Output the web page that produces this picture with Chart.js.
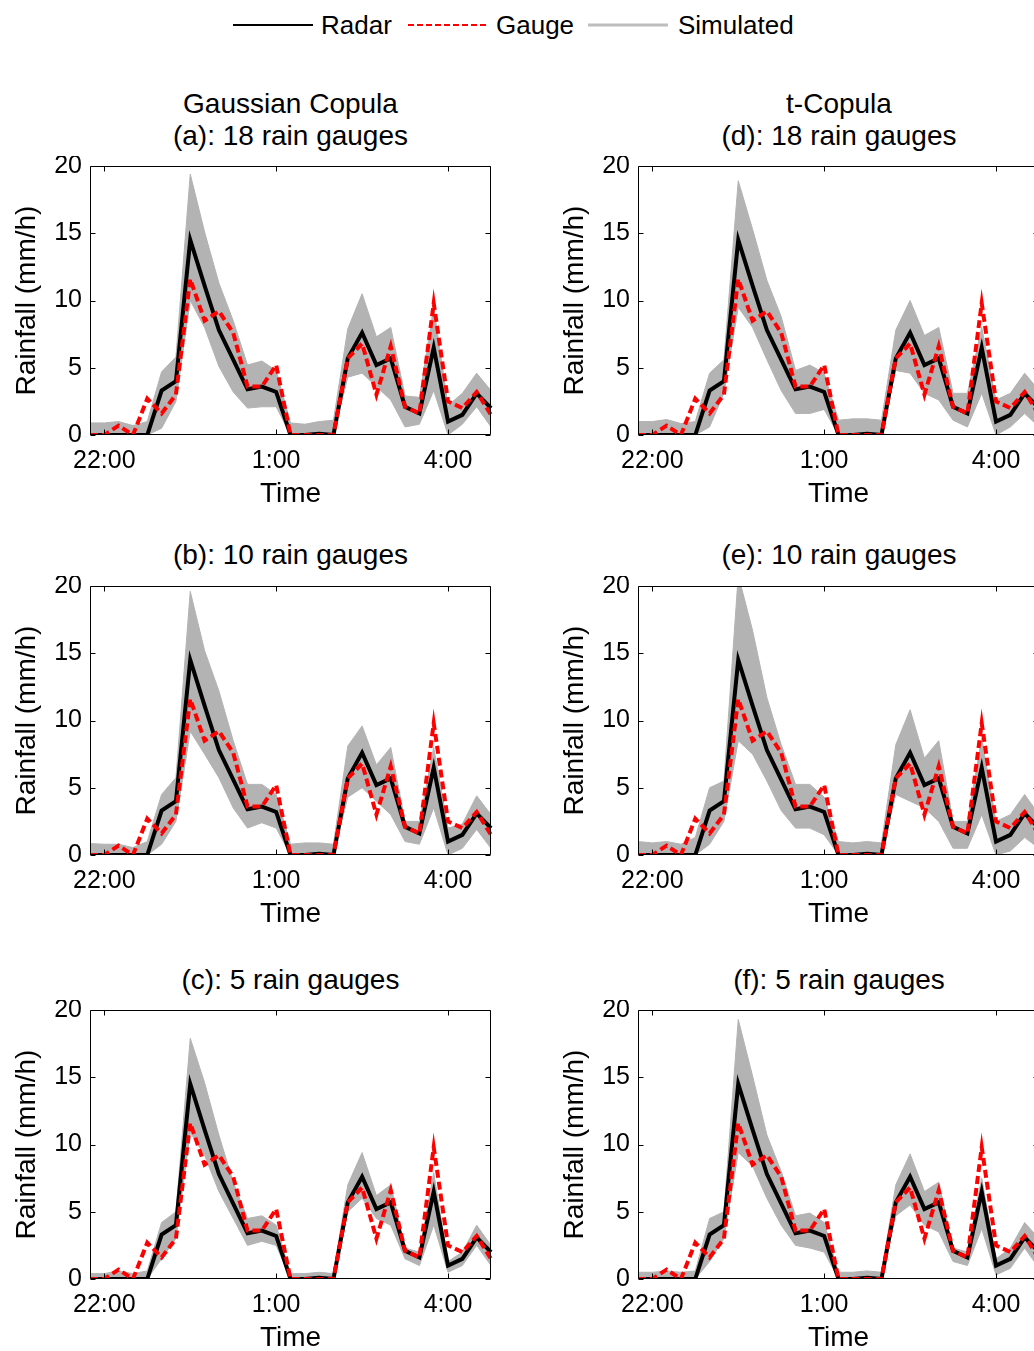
<!DOCTYPE html>
<html>
<head>
<meta charset="utf-8">
<script src="https://cdn.jsdelivr.net/npm/chart.js@4.4.1/dist/chart.umd.min.js"></script>
<style>
  html, body { margin: 0; padding: 0; background: #fff; }
  body { width: 1034px; height: 1351px; overflow: hidden; position: relative;
         font-family: "Liberation Sans", Arial, sans-serif; color: #000; }
  .ttl { position: absolute; width: 500px; text-align: center; font-size: 28px; line-height: 32px; white-space: nowrap; }
  .lg { position: absolute; font-size: 26px; line-height: 30px; top: 10px; white-space: nowrap; }
  canvas { position: absolute; }
</style>
</head>
<body>
<script>
// ---------------- DATA ----------------
const categories = ["21:45","22:00","22:15","22:30","22:45","23:00","23:15","23:30","23:45","0:00","0:15","0:30","0:45",
  "1:00","1:15","1:30","1:45","2:00","2:15","2:30","2:45","3:00","3:15","3:30","3:45","4:00","4:15","4:30","4:45"];
const xTickLabels = ["22:00", "1:00", "4:00"];
const yTickValues = [0, 5, 10, 15, 20];

const radar = [0,0,0,0,0,3.3,4.0,14.5,11.1,7.8,5.6,3.4,3.6,3.2,0,0,0.1,0,5.7,7.6,5.2,5.7,2.1,1.6,6.5,1.0,1.5,3.1,2.0];
const gauge = [0,0,0.7,0,2.7,1.6,3.0,11.6,8.5,9.2,7.6,3.6,3.6,5.2,0,0,0,0,5.7,6.8,3.0,6.6,2.1,1.6,9.8,2.5,2.0,3.2,1.5];

// Simulated envelope (upper / lower) for each panel
const simA_upper = [0.9,0.9,1.0,0.7,1.0,4.7,5.8,19.4,15.1,11.3,8.5,5.2,5.5,4.8,0.9,0.8,1.0,1.1,7.9,10.5,7.3,8.0,2.9,2.8,9.5,2.2,3.1,4.6,3.3];
const simA_lower = [0,0,0,0,0,0.5,2.5,10.0,8.0,5.1,3.2,2.0,2.1,2.1,0,0,0,0,4.3,4.6,3.6,2.6,0.6,0.8,3.3,0,0.8,2.1,0.6];
const simB_upper = [0.85,0.8,0.8,0.55,1.0,4.5,5.75,19.6,15.2,12.2,8.5,5.25,5.25,4.5,0.8,0.9,0.9,0.8,8.1,9.6,6.7,8.0,2.5,2.5,8.0,2.0,2.3,4.4,3.0];
const simB_lower = [0,0,0,0,0,0.8,2.5,9.2,7.5,5.75,3.5,2.0,2.4,2.0,0,0,0,0,4.3,5.0,4.0,3.0,1.0,0.8,3.5,0,0.5,1.9,0.5];
const simC_upper = [0.4,0.4,0.6,0.4,0.6,4.2,5.0,17.9,14.6,10.7,7.2,4.5,4.7,4.0,0.4,0.4,0.5,0.4,7.0,9.4,6.2,7.0,2.3,2.0,7.9,1.3,2.0,4.0,2.5];
const simC_lower = [0,0,0,0,0,1.5,3.0,10.9,9.2,6.5,4.5,2.5,2.8,2.5,0,0,0,0,5.0,6.0,4.5,4.0,1.5,1.0,4.0,0.5,1.0,2.5,1.0];
const simD_upper = [1.0,1.0,1.15,0.85,1.0,4.6,5.6,18.9,15.3,11.5,8.8,4.8,5.2,4.6,1.1,1.2,1.2,1.1,7.8,10.0,7.4,8.0,3.1,3.1,8.0,2.6,3.1,4.6,3.3];
const simD_lower = [0,0,0,0,0,0.6,3.1,9.5,8.0,5.6,3.3,1.6,1.6,1.9,0,0,0,0,4.8,4.6,3.1,2.6,1.1,0.6,3.1,0,0.6,1.6,0.6];
const simE_upper = [1.0,0.9,1.0,0.8,1.3,5.0,5.5,20.8,16.7,11.7,8.2,5.25,5.25,4.3,1.0,0.9,1.0,0.9,8.2,10.8,7.2,8.5,2.5,2.5,8.7,2.5,3.0,4.5,3.0];
const simE_lower = [0,0,0,0,0,0.8,2.5,8.5,7.5,5.5,3.3,2.0,2.0,1.5,0,0,0,0,4.5,4.0,3.5,2.5,0.5,0.5,3.0,0,0.3,1.3,0.5];
const simF_upper = [0.5,0.5,0.6,0.5,0.6,4.5,5.0,19.3,15.1,10.7,8.0,4.7,4.9,4.2,0.5,0.5,0.6,0.5,7.0,9.3,6.5,7.2,2.3,2.0,7.5,1.5,2.3,4.2,3.0];
const simF_lower = [0,0,0,0,0,1.3,3.0,9.4,8.4,6.0,4.0,2.5,2.3,2.0,0,0,0,0,4.7,5.5,4.0,3.5,1.3,1.0,3.75,0.3,0.8,2.3,0.8];

const panelTitles = [
  ["Gaussian Copula", "(a): 18 rain gauges"],
  ["(b): 10 rain gauges"],
  ["(c): 5 rain gauges"],
  ["t-Copula", "(d): 18 rain gauges"],
  ["(e): 10 rain gauges"],
  ["(f): 5 rain gauges"]
];
const legendLabels = ["Radar", "Gauge", "Simulated"];
const xAxisTitle = "Time";
const yAxisTitle = "Rainfall (mm/h)";
// ---------------------------------------

const COL = { radar: "#000000", gauge: "#ff0000", sim: "#b3b3b3" };
const FONT = '"Liberation Sans", Arial, sans-serif';
Chart.defaults.font.family = FONT;
Chart.defaults.color = "#000";

const sims = [
  [simA_upper, simA_lower], [simB_upper, simB_lower], [simC_upper, simC_lower],
  [simD_upper, simD_lower], [simE_upper, simE_lower], [simF_upper, simF_lower]
];

// layout
const colPlotLeft = [90, 638];
const rowPlotTop = [166, 586, 1010];
const plotW = 401, plotH = 269, padTop = 10, yAxisW = 90, xAxisH = 80, padRight = 10;
const titleCenterX = [290.5, 839];
const titleTopY = [[88, 120], [539], [964]];

// legend (HTML)
(function () {
  const svgNS = "http://www.w3.org/2000/svg";
  function addLine(x, w, color, width, dash) {
    const svg = document.createElementNS(svgNS, "svg");
    svg.setAttribute("width", w); svg.setAttribute("height", 10);
    svg.style.position = "absolute"; svg.style.left = x + "px"; svg.style.top = "20px";
    const ln = document.createElementNS(svgNS, "line");
    ln.setAttribute("x1", 0); ln.setAttribute("x2", w); ln.setAttribute("y1", 5); ln.setAttribute("y2", 5);
    ln.setAttribute("stroke", color); ln.setAttribute("stroke-width", width);
    if (dash) ln.setAttribute("stroke-dasharray", dash);
    svg.appendChild(ln); document.body.appendChild(svg);
  }
  function addText(x, t) {
    const d = document.createElement("div"); d.className = "lg"; d.style.left = x + "px"; d.textContent = t;
    document.body.appendChild(d);
  }
  addLine(233, 80, COL.radar, 2, null); addText(321, legendLabels[0]);
  addLine(408, 80, COL.gauge, 2, "6,3"); addText(496, legendLabels[1]);
  addLine(588, 80, "#bdbdbd", 3, null); addText(678, legendLabels[2]);
})();

// frame + inward ticks plugin
const framePlugin = {
  id: "frame",
  afterDatasetsDraw(chart) {
    const { ctx, chartArea: a, scales } = chart;
    const x = scales.x, y = scales.y;
    ctx.save();
    ctx.strokeStyle = "#000"; ctx.lineWidth = 1;
    ctx.beginPath();
    const L = Math.round(a.left) + 0.5, R = Math.round(a.right) - 0.5, T = Math.round(a.top) + 0.5, B = Math.round(a.bottom) - 0.5;
    ctx.rect(L, T, R - L, B - T);
    const tl = 5;
    yTickValues.forEach(v => {
      const py = Math.round(y.getPixelForValue(v)) + 0.5;
      ctx.moveTo(L, py); ctx.lineTo(L + tl, py);
      ctx.moveTo(R, py); ctx.lineTo(R - tl, py);
    });
    xTickLabels.forEach(lbl => {
      const px = Math.round(x.getPixelForValue(categories.indexOf(lbl))) + 0.5;
      ctx.moveTo(px, B); ctx.lineTo(px, B - tl);
      ctx.moveTo(px, T); ctx.lineTo(px, T + tl);
    });
    ctx.stroke();
    ctx.restore();
  }
};

for (let p = 0; p < 6; p++) {
  const col = Math.floor(p / 3), row = p % 3;
  // titles
  panelTitles[p].forEach((t, k) => {
    const d = document.createElement("div"); d.className = "ttl";
    d.style.left = (titleCenterX[col] - 250) + "px";
    const tops = titleTopY[row];
    d.style.top = (panelTitles[p].length === 2 ? tops[k] : tops[tops.length - 1]) + "px";
    d.textContent = t; document.body.appendChild(d);
  });
  const cv = document.createElement("canvas");
  const W = yAxisW + plotW + padRight, H = padTop + plotH + xAxisH;
  cv.width = W; cv.height = H;
  cv.style.width = W + "px"; cv.style.height = H + "px";
  cv.style.left = (colPlotLeft[col] - yAxisW) + "px";
  cv.style.top = (rowPlotTop[row] - padTop) + "px";
  document.body.appendChild(cv);
  const [up, lo] = sims[p];
  new Chart(cv, {
    type: "line",
    data: {
      labels: categories,
      datasets: [
        { label: legendLabels[1], data: gauge, borderColor: COL.gauge, borderWidth: 4, borderDash: [8, 4],
          pointRadius: 0, tension: 0, fill: false, order: 0, borderCapStyle: "butt" },
        { label: legendLabels[0], data: radar, borderColor: COL.radar, borderWidth: 4,
          pointRadius: 0, tension: 0, fill: false, order: 1 },
        { label: legendLabels[2] + " upper", data: up, borderColor: COL.sim, borderWidth: 1, backgroundColor: COL.sim,
          pointRadius: 0, tension: 0, fill: "+1", order: 2 },
        { label: legendLabels[2] + " lower", data: lo, borderColor: COL.sim, borderWidth: 1, backgroundColor: COL.sim,
          pointRadius: 0, tension: 0, fill: false, order: 3 }
      ]
    },
    options: {
      responsive: false, animation: false, devicePixelRatio: 1,
      layout: { padding: { top: padTop, right: padRight, left: 0, bottom: 0 } },
      plugins: { legend: { display: false }, tooltip: { enabled: false }, title: { display: false } },
      scales: {
        x: {
          type: "category", offset: false,
          grid: { display: false, drawTicks: false }, border: { display: false },
          ticks: {
            autoSkip: false, maxRotation: 0, minRotation: 0, padding: 11,
            font: { size: 25, family: FONT }, color: "#000",
            callback: function (val, idx) { const l = categories[idx]; return xTickLabels.includes(l) ? l : ""; }
          },
          title: { display: true, text: xAxisTitle, font: { size: 28, family: FONT }, color: "#000", padding: { top: 0, bottom: 4 } },
          afterFit: s => { s.height = xAxisH; s.paddingLeft = 0; s.paddingRight = 0; }
        },
        y: {
          min: 0, max: 20,
          grid: { display: false, drawTicks: false }, border: { display: false },
          ticks: { stepSize: 5, padding: 8, font: { size: 25, family: FONT }, color: "#000" },
          title: { display: true, text: yAxisTitle, font: { size: 28, family: FONT }, color: "#000", padding: { top: 10, bottom: 0 } },
          afterFit: s => { s.width = yAxisW; s.paddingTop = 0; s.paddingBottom = 0; }
        }
      }
    },
    plugins: [framePlugin]
  });
}
</script>
</body>
</html>
